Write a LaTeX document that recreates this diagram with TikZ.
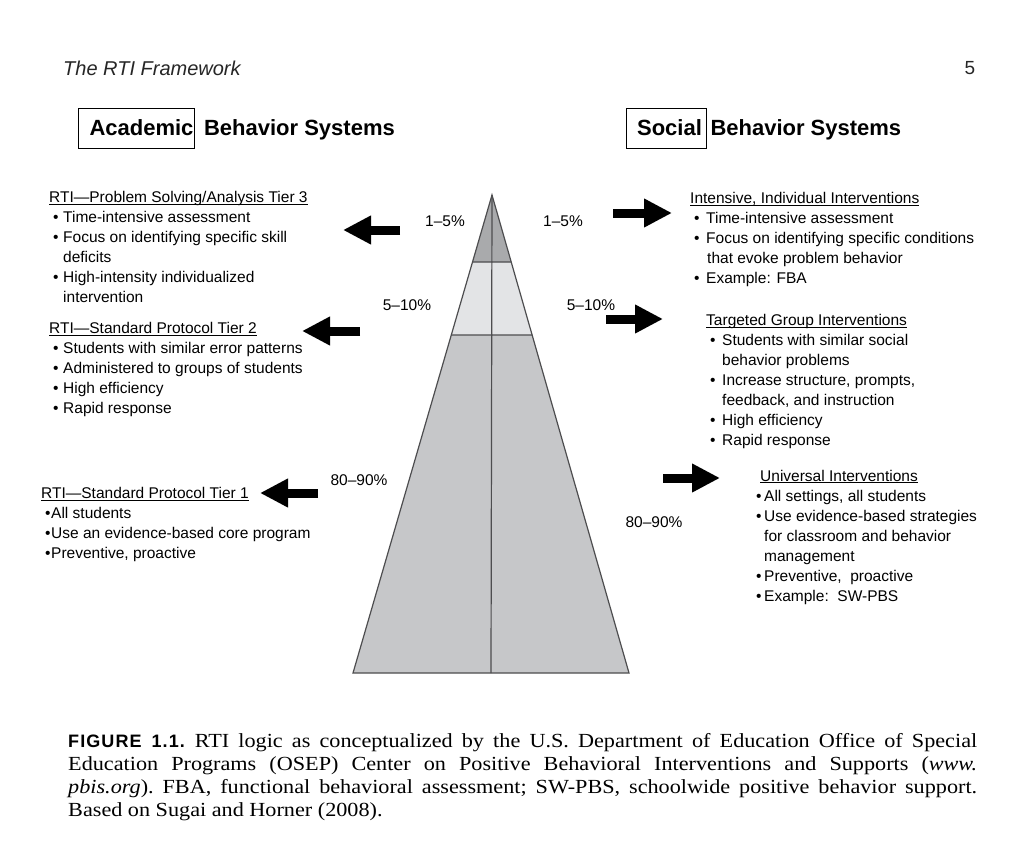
\documentclass[tikz,border=0pt]{standalone}
\usepackage{fontspec}
\setmainfont{Liberation Serif}[FakeStretch=1.11]
\setsansfont{Liberation Sans}
\usepackage{xcolor}
\usepackage{tikz}
\usetikzlibrary{positioning, calc, arrows.meta}
\definecolor{tiertop}{HTML}{A9AAAC}
\definecolor{tiermid}{HTML}{E3E4E6}
\definecolor{tierlow}{HTML}{C6C7C9}
\definecolor{tieredge}{HTML}{4D4D4F}
\newcommand{\hd}[1]{\setbox0=\hbox{#1}\rlap{\rule[-1.8pt]{\wd0}{0.9pt}}\box0}
\newcommand{\bul}[1][14pt]{\makebox[#1][l]{\hspace{4pt}\textbullet}}
\newcommand{\ind}[1][14pt]{\hspace*{#1}}

\begin{document}
\begin{tikzpicture}[x=1pt, y=-1pt,
  body/.style={inner sep=0pt, anchor=north west, align=left, font=\sffamily\fontsize{15.5}{20}\selectfont},
  pct/.style={inner sep=0pt, font=\sffamily\fontsize{15.5}{20}\selectfont},
  hdr/.style={inner sep=0pt, font=\sffamily\bfseries\fontsize{22}{26}\selectfont},
  hbox/.style={hdr, draw, line width=0.8pt, minimum height=40pt},
  blockarrow/.style={line width=9pt, -{Triangle[length=28pt, width=27pt]}},
  tier/.style={draw=tieredge, line width=1.2pt, line join=miter},
  capt/.style={inner sep=0pt, anchor=north west, text width=909pt, align=justify, font=\frenchspacing\fontsize{20}{23}\selectfont}]
  \fill[white] (0,0) rectangle (1036,856);
  \useasboundingbox (0,0) rectangle (1036,856);

  \node[inner sep=0pt, anchor=west, font=\sffamily\itshape\fontsize{20}{22}\selectfont, text=black!85] (runhead) at (63,68) {The RTI Framework};
  \node[inner sep=0pt, font=\sffamily\fontsize{19}{22}\selectfont, text=black!85] (pageno) at (970,68) {5};

  \node[hbox] (acad) at (136.5,128) {\hspace*{11pt}Academic\hspace*{1pt}};
  \node[hdr, base right=9pt of acad] (acadrest) {Behavior Systems};
  \node[hbox] (social) at (666,128) {\hspace*{11pt}Social\hspace*{4pt}};
  \node[hdr, base right=4pt of social] (socialrest) {Behavior Systems};

  \coordinate (apex) at (492,195);
  \coordinate (bl) at (353,673);
  \coordinate (br) at (629,673);
  \coordinate (al) at ($(apex)!0.1402!(bl)$);
  \coordinate (ar) at ($(apex)!0.1402!(br)$);
  \coordinate (ml) at ($(apex)!0.2929!(bl)$);
  \coordinate (mr) at ($(apex)!0.2929!(br)$);
  \fill[tierlow] (bl) -- (ml) -- (mr) -- (br) -- cycle;
  \fill[tiermid] (ml) -- (al) -- (ar) -- (mr) -- cycle;
  \fill[tiertop] (al) -- (apex) -- (ar) -- cycle;
  \draw[tier] (apex) -- (bl) -- (br) -- cycle;
  \draw[tier] (al) -- (ar) (ml) -- (mr) (apex) -- ($(bl)!0.5!(br)$);

  \node[pct] (ptl) at (445,221) {1–5\%};
  \node[pct] (ptr) at (563,221) {1–5\%};
  \node[pct] (pml) at (407,305) {5–10\%};
  \node[pct] (pmr) at (591,305) {5–10\%};
  \node[pct] (pbl) at (359,480) {80–90\%};
  \node[pct] (pbr) at (654,522) {80–90\%};

  \foreach \xs/\xe/\y in {400/343/230, 360/302/331, 318/260/493, 613/672/213, 606/663/319, 663/720/478}{
    \draw[blockarrow] (\xs,\y) -- (\xe,\y);
  }

  \node[body] (tthree) at (49,191.2) {\hd{RTI—Problem Solving/Analysis Tier 3}\\
    \bul Time-intensive assessment\\
    \bul Focus on identifying specific skill\\
    \ind deficits\\
    \bul High-intensity individualized\\
    \ind intervention};
  \node[body] (ttwo) at (49,322.2) {\hd{RTI—Standard Protocol Tier 2}\\
    \bul Students with similar error patterns\\
    \bul Administered to groups of students\\
    \bul High efficiency\\
    \bul Rapid response};
  \node[body] (tone) at (41,487.2) {\hd{RTI—Standard Protocol Tier 1}\\
    \bul[10pt]All students\\
    \bul[10pt]Use an evidence-based core program\\
    \bul[10pt]Preventive, proactive};

  \node[body] (rthree) at (690,192.2) {\hd{Intensive, Individual Interventions}\\
    \bul[16pt]Time-intensive assessment\\
    \bul[16pt]Focus on identifying specific conditions\\
    \ind[17pt]that evoke problem behavior\\
    \bul[16pt]Example: FBA};
  \node[body] (rtwo) at (706,314.2) {\hd{Targeted Group Interventions}\\
    \bul[16pt]Students with similar social\\
    \ind[16pt]behavior problems\\
    \bul[16pt]Increase structure, prompts,\\
    \ind[16pt]feedback, and instruction\\
    \bul[16pt]High efficiency\\
    \bul[16pt]Rapid response};
  \node[body] (rone) at (752,469.7) {\ind[8pt]\hd{Universal Interventions}\\
    \bul[12pt]All settings, all students\\
    \bul[12pt]Use evidence-based strategies\\
    \ind[12pt]for classroom and behavior\\
    \ind[12pt]management\\
    \bul[12pt]Preventive,\ \ proactive\\
    \bul[12pt]Example:\ \ SW-PBS};

  \node[capt] (caption) at (68,733) {{\sffamily\bfseries\fontsize{18}{23}\selectfont\addfontfeature{LetterSpace=6}FIGURE 1.1.}\enspace RTI logic as conceptualized by the U.S. Department of Education Office of Special\linebreak
    Education Programs (OSEP) Center on Positive Behavioral Interventions and Supports (\textit{www.}\linebreak
    \textit{pbis.org}). FBA, functional behavioral assessment; SW-PBS, schoolwide positive behavior support.\linebreak
    Based on Sugai and Horner (2008).};
\end{tikzpicture}
\end{document}
